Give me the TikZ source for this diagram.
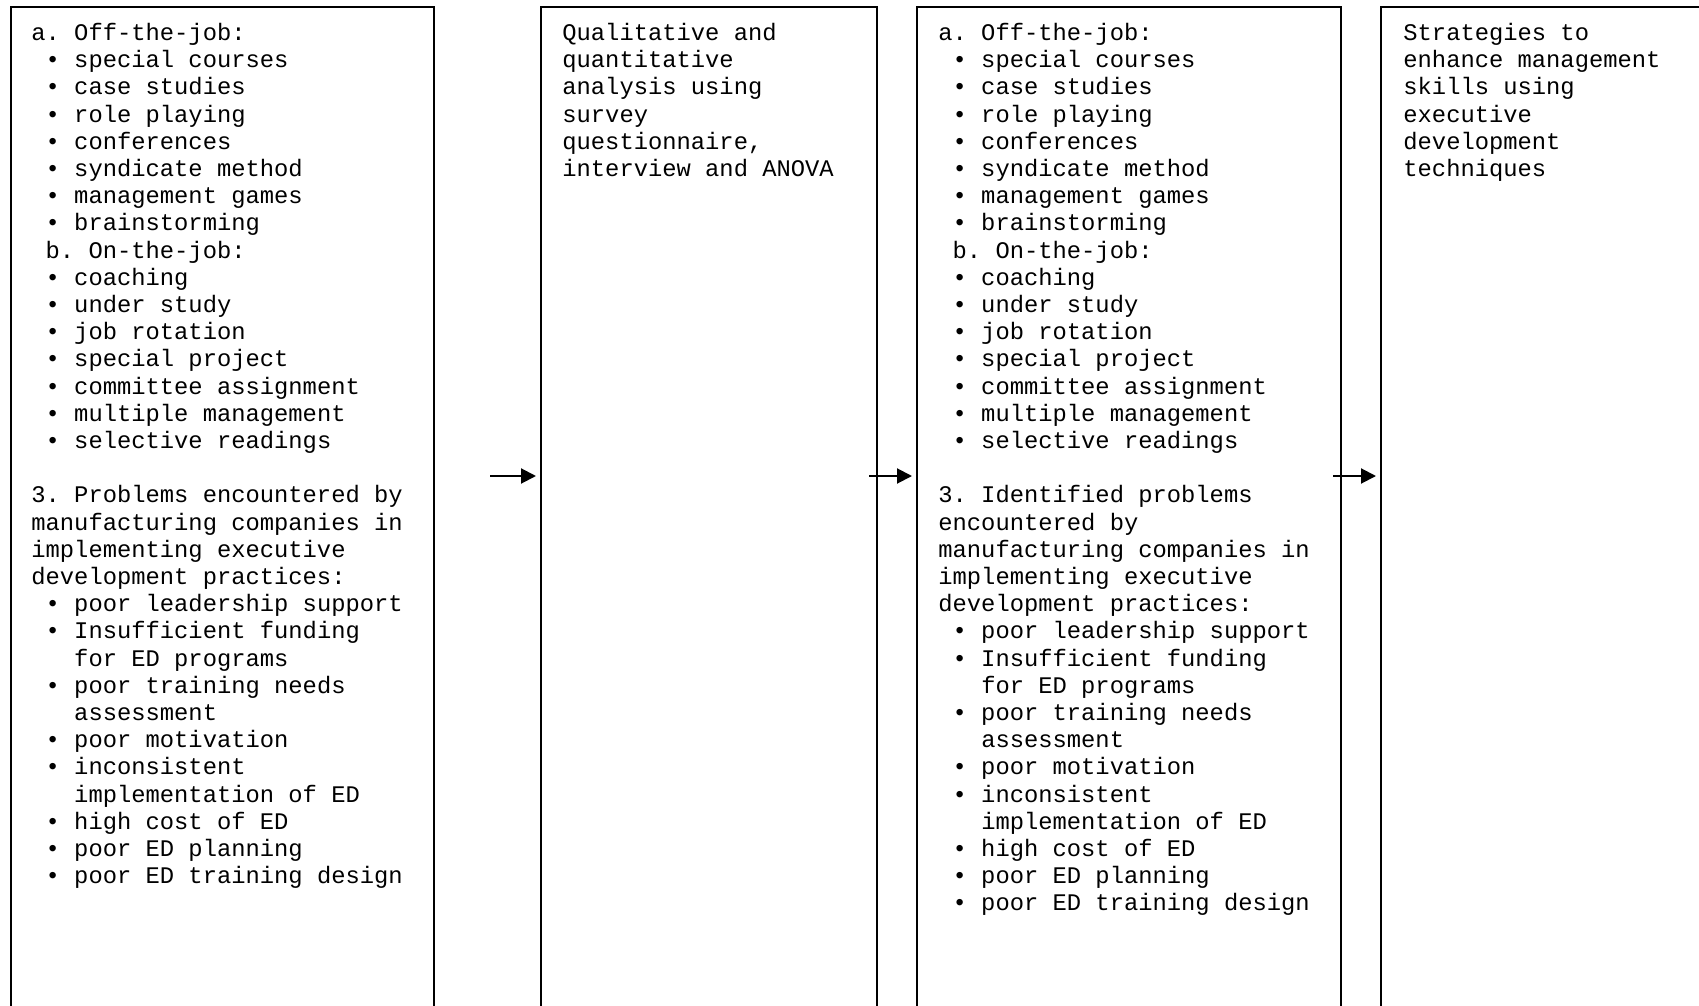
\documentclass[tikz,border=0pt]{standalone}
\usepackage{fontspec}
\usetikzlibrary{arrows.meta}
\newfontfamily\monofnt{Liberation Mono}
\newcommand\ia{\phantom{x}}
\newcommand\ib{\phantom{xxx}}
\newcommand\firstln{\rule{0pt}{10pt}}
\frenchspacing
\begin{document}
\begin{tikzpicture}[x=0.5pt,y=-0.5pt,
  box/.style={draw=black,line width=1pt,anchor=north west,inner sep=0pt,minimum height=540pt},
  txt/.style={anchor=north west,inner sep=0pt,align=left,font=\monofnt\fontsize{11.9pt}{13.6pt}\selectfont\frenchspacing},
  arr/.style={line width=1pt,-{Triangle[length=7.5pt,width=7.5pt]},shorten >=2pt}]
\useasboundingbox[fill=white] (0,0) rectangle (1699,1006);
\node[box,minimum width=211.6pt] (b1) at (9.75,6) {};
\node[box,minimum width=168pt] (b2) at (540,6) {};
\node[box,minimum width=212pt] (b3) at (916,6) {};
\node[box,minimum width=200pt] (b4) at (1380,6) {};
\node[txt] (t1) at (31,20) {\firstln a. Off-the-job:\\
\ia• special courses\\
\ia• case studies\\
\ia• role playing\\
\ia• conferences\\
\ia• syndicate method\\
\ia• management games\\
\ia• brainstorming\\
\ia b. On-the-job:\\
\ia• coaching\\
\ia• under study\\
\ia• job rotation\\
\ia• special project\\
\ia• committee assignment\\
\ia• multiple management\\
\ia• selective readings\\
\ia\\
3. Problems encountered by\\
manufacturing companies in\\
implementing executive\\
development practices:\\
\ia• poor leadership support\\
\ia• Insufficient funding\\
\ib for ED programs\\
\ia• poor training needs\\
\ib assessment\\
\ia• poor motivation\\
\ia• inconsistent\\
\ib implementation of ED\\
\ia• high cost of ED\\
\ia• poor ED planning\\
\ia• poor ED training design};
\node[txt] (t2) at (562,20) {\firstln Qualitative and\\
quantitative\\
analysis using\\
survey\\
questionnaire,\\
interview and ANOVA};
\node[txt] (t3) at (938,20) {\firstln a. Off-the-job:\\
\ia• special courses\\
\ia• case studies\\
\ia• role playing\\
\ia• conferences\\
\ia• syndicate method\\
\ia• management games\\
\ia• brainstorming\\
\ia b. On-the-job:\\
\ia• coaching\\
\ia• under study\\
\ia• job rotation\\
\ia• special project\\
\ia• committee assignment\\
\ia• multiple management\\
\ia• selective readings\\
\ia\\
3. Identified problems\\
encountered by\\
manufacturing companies in\\
implementing executive\\
development practices:\\
\ia• poor leadership support\\
\ia• Insufficient funding\\
\ib for ED programs\\
\ia• poor training needs\\
\ib assessment\\
\ia• poor motivation\\
\ia• inconsistent\\
\ib implementation of ED\\
\ia• high cost of ED\\
\ia• poor ED planning\\
\ia• poor ED training design};
\node[txt] (t4) at (1403,20) {\firstln Strategies to\\
enhance management\\
skills using\\
executive\\
development\\
techniques};
\coordinate (s1) at (490,476);
\coordinate (s2) at (869,476);
\coordinate (s3) at (1333,476);
\draw[arr] (s1) -- (s1 -| b2.west);
\draw[arr] (s2) -- (s2 -| b3.west);
\draw[arr] (s3) -- (s3 -| b4.west);
\end{tikzpicture}
\end{document}
